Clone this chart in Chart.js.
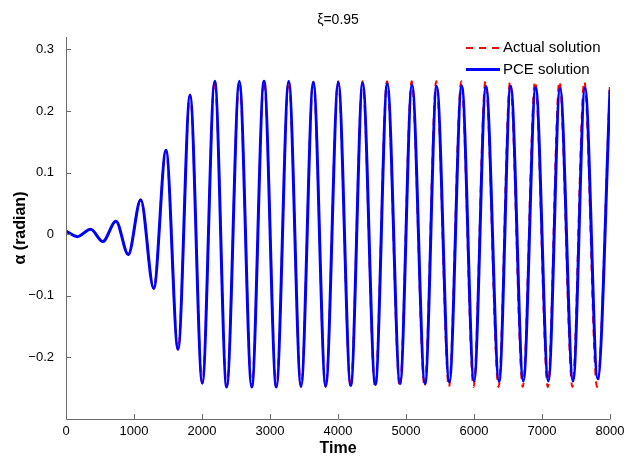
<!DOCTYPE html>
<html><head><meta charset="utf-8">
<script src="https://cdn.jsdelivr.net/npm/chart.js@4.4.1/dist/chart.umd.min.js"></script>
<style>html,body{margin:0;padding:0;background:#fff;} #wrap{width:631px;height:457px;}</style>
</head><body><div id="wrap"><canvas id="c" width="631" height="457"></canvas></div>
<script>
const chartTitle = "ξ=0.95";
const xAxisLabel = "Time";
const yAxisLabel = "α (radian)";
const seriesNames = ["Actual solution", "PCE solution"];
const xTicks = [0, 1000, 2000, 3000, 4000, 5000, 6000, 7000, 8000];
const yTicks = [-0.2, -0.1, 0, 0.1, 0.2, 0.3];

// PCE solution: turning points
const pceTime = [0,166,363,540,735,916,1099,1290,1471,1647,1824,2004,2187,2363,2549,2731,2912,3093,3275,3456,3637,3819,4004,4187,4363,4549,4725,4912,5088,5279,5451,5637,5819,6000,6176,6368,6539,6725,6907,7093,7265,7456,7632,7819,8000];
const pceAlpha = [0.005,-0.004,0.008,-0.012,0.021,-0.033,0.056,-0.088,0.136,-0.187,0.226,-0.242,0.248,-0.248,0.248,-0.248,0.248,-0.248,0.248,-0.247,0.247,-0.247,0.2466,-0.2455,0.2451,-0.2439,0.2439,-0.2428,0.2423,-0.2423,0.2401,-0.2401,0.2412,-0.2385,0.2401,-0.2385,0.2401,-0.2385,0.2385,-0.2385,0.2369,-0.2385,0.2374,-0.2347,0.234];

// Actual solution: turning points
const actualTime = [0,166,363,540,735,916,1099,1290,1471,1647,1824,2004,2187,2363,2549,2731,2912,3093,3275,3456,3636,3818,4002,4185,4360,4545,4721,4908,5083,5274,5445,5631,5813,5994,6169,6361,6531,6717,6899,7085,7256,7447,7622,7809,8000];
const actualAlpha = [0.005,-0.004,0.008,-0.012,0.021,-0.033,0.056,-0.088,0.136,-0.187,0.226,-0.242,0.248,-0.248,0.248,-0.248,0.248,-0.248,0.248,-0.248,0.248,-0.248,0.248,-0.248,0.248,-0.248,0.248,-0.248,0.248,-0.248,0.248,-0.248,0.248,-0.248,0.248,-0.248,0.248,-0.248,0.248,-0.248,0.248,-0.248,0.248,-0.248,0.247];

const FONT = "'Liberation Sans', Arial, Helvetica, sans-serif";
Chart.defaults.font.family = FONT;
Chart.defaults.color = '#000';

const toPts = (t, v) => t.map((x, i) => ({x: x, y: v[i]}));

const overlay = {
  id: 'overlay',
  afterDraw(chart) {
    const {ctx, chartArea: a, scales: {x, y}} = chart;
    ctx.save();
    ctx.strokeStyle = '#6a6a6a';
    ctx.lineWidth = 1;
    ctx.setLineDash([]);
    ctx.beginPath();
    ctx.moveTo(a.left + 0.5, a.top);
    ctx.lineTo(a.left + 0.5, a.bottom + 0.5);
    ctx.lineTo(a.right + 0.5, a.bottom + 0.5);
    xTicks.forEach(v => {
      const px = Math.round(x.getPixelForValue(v)) + 0.5;
      ctx.moveTo(px, a.bottom);
      ctx.lineTo(px, a.bottom - 5);
    });
    yTicks.forEach(v => {
      const py = Math.round(y.getPixelForValue(v)) + 0.5;
      ctx.moveTo(a.left, py);
      ctx.lineTo(a.left + 5, py);
    });
    ctx.stroke();

    ctx.fillStyle = '#000';
    ctx.font = '14px ' + FONT;
    ctx.textAlign = 'center';
    ctx.textBaseline = 'middle';
    ctx.fillText(chartTitle, (a.left + a.right) / 2, 20);

    // legend
    ctx.font = '15px ' + FONT;
    ctx.textAlign = 'left';
    const legendOrder = [0, 1];
    legendOrder.forEach((di, i) => {
      const ds = chart.data.datasets[di];
      const ly = 48 + i * 21.5;
      ctx.beginPath();
      ctx.strokeStyle = ds.borderColor;
      ctx.lineWidth = ds.borderWidth;
      ctx.setLineDash(ds.borderDash || []);
      ctx.moveTo(a.right - 144, ly);
      ctx.lineTo(a.right - 110, ly);
      ctx.stroke();
      ctx.setLineDash([]);
      ctx.fillText(ds.label, a.right - 107, ly);
    });
    ctx.restore();
  }
};

new Chart(document.getElementById('c'), {
  type: 'line',
  data: {
    datasets: [
      {
        label: seriesNames[0],
        data: toPts(actualTime, actualAlpha),
        borderColor: '#ff0000',
        borderWidth: 2,
        borderDash: [7, 6],
        pointRadius: 0,
        cubicInterpolationMode: 'monotone',
        fill: false,
        order: 1
      },
      {
        label: seriesNames[1],
        data: toPts(pceTime, pceAlpha),
        borderColor: '#0000ff',
        borderWidth: 3,
        pointRadius: 0,
        cubicInterpolationMode: 'monotone',
        fill: false,
        order: 0
      }
    ]
  },
  options: {
    responsive: false,
    devicePixelRatio: 1,
    animation: false,
    layout: { padding: { top: 37, right: 21, left: 0, bottom: 0 } },
    plugins: { legend: { display: false }, title: { display: false }, tooltip: { enabled: false } },
    scales: {
      x: {
        type: 'linear',
        min: 0, max: 8000,
        grid: { display: false, drawTicks: false },
        border: { display: false },
        afterBuildTicks: s => { s.ticks = xTicks.map(v => ({value: v})); },
        afterFit: s => { s.height = 38; },
        ticks: { font: { size: 13 }, color: '#000', padding: 5, maxRotation: 0, autoSkip: false,
                 callback: v => String(v) },
        title: { display: true, text: xAxisLabel, font: { size: 16, weight: 'bold', lineHeight: 1 }, padding: 0, color: '#000' }
      },
      y: {
        type: 'linear',
        min: -0.3, max: 0.32,
        grid: { display: false, drawTicks: false },
        border: { display: false },
        afterBuildTicks: s => { s.ticks = yTicks.map(v => ({value: v})); },
        afterFit: s => { s.width = 66; },
        ticks: { font: { size: 13 }, color: '#000', padding: 12, autoSkip: false,
                 callback: v => (Math.abs(v) < 1e-9 ? '0' : (v < 0 ? '\u2212' : '') + Math.abs(v).toFixed(1)) },
        title: { display: true, text: yAxisLabel, font: { size: 16, weight: 'bold', lineHeight: 1.2 }, padding: { top: 11, bottom: 0 }, color: '#000' }
      }
    }
  },
  plugins: [overlay]
});
</script>
</body></html>
